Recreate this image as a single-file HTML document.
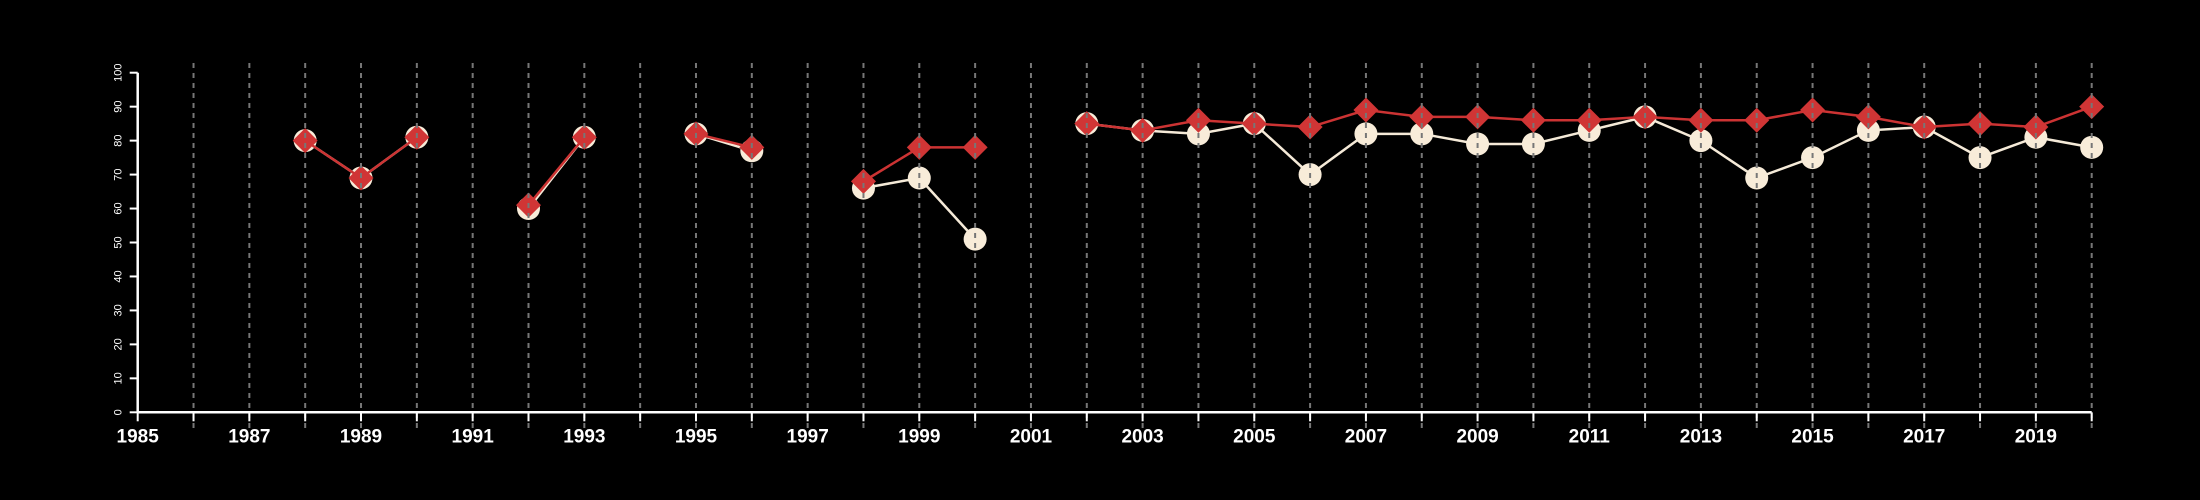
<!DOCTYPE html>
<html><head><meta charset="utf-8"><style>
html,body{margin:0;padding:0;background:#000;width:2200px;height:500px;overflow:hidden}
svg text{font-family:"Liberation Sans",Arial,sans-serif;fill:#fff}
</style></head><body>
<svg id="chart" width="2200" height="500" xmlns="http://www.w3.org/2000/svg">
<g id="series"></g>
<g id="grid"></g>
<g id="axes"></g>
</svg>
<script>
const years = [1988,1989,1990,1991,1992,1993,1994,1995,1996,1997,1998,1999,2000,2001,2002,2003,2004,2005,2006,2007,2008,2009,2010,2011,2012,2013,2014,2015,2016,2017,2018,2019,2020];
const whiteValues = [80,69,81,null,60,81,null,82,77,null,66,69,51,null,85,83,82,85,70,82,82,79,79,83,87,80,69,75,83,84,75,81,78];
const redValues = [80,69,81,null,61,81,null,82,78,null,68,78,78,null,85,83,86,85,84,89,87,87,86,86,87,86,86,89,87,84,85,84,90];
const xTickLabels = [1985,1987,1989,1991,1993,1995,1997,1999,2001,2003,2005,2007,2009,2011,2013,2015,2017,2019];
const yTickLabels = [0,10,20,30,40,50,60,70,80,90,100];

const X0=137.7, X1=2091.7, Y0=412.3, Y1=72.7;
const xs = y => X0 + (y-1985)*(X1-X0)/35;
const ys = v => Y0 - v*(Y0-Y1)/100;
const NS="http://www.w3.org/2000/svg";
function mk(tag, parent, attrs){const e=document.createElementNS(NS,tag);for(const k in attrs)e.setAttribute(k,attrs[k]);parent.appendChild(e);return e;}

const grid=document.getElementById('grid'), axes=document.getElementById('axes'), series=document.getElementById('series');

for(let y=1986;y<=2020;y++){
  const l=mk('line',grid,{x1:xs(y),x2:xs(y),y1:63,y2:428,stroke:'#777','stroke-width':2,'stroke-dasharray':'5,5'});
  
  
}
const xa=mk('line',axes,{x1:X0,x2:X1,y1:Y0,y2:Y0,stroke:'#fff','stroke-width':2.5});


for(let y=1985;y<=2020;y++){
  const t=mk('line',axes,{x1:xs(y),x2:xs(y),y1:Y0,y2:Y0+9,stroke:'#fff','stroke-width':2});
  
  
}
xTickLabels.forEach(v=>{
  const t=mk('text',axes,{x:xs(v),y:Y0+30,'text-anchor':'middle','font-size':19,'font-weight':'bold'});
  t.textContent=v;
  
  
});
const ya=mk('line',axes,{x1:X0,x2:X0,y1:Y0,y2:Y1,stroke:'#fff','stroke-width':2.5});


yTickLabels.forEach(v=>{
  const t=mk('line',axes,{x1:X0-8,x2:X0,y1:ys(v),y2:ys(v),stroke:'#fff','stroke-width':2});
  
  
  const tx=mk('text',axes,{x:0,y:0,'text-anchor':'middle','font-size':11,transform:`translate(${X0-16},${ys(v)}) rotate(-90)`});
  tx.textContent=v;
  
  
});

function drawLine(vals,color,name){
  let seg=[];
  const flush=()=>{if(seg.length>1){const p=mk('polyline',series,{points:seg.join(' '),fill:'none',stroke:color,'stroke-width':2.5});}seg=[];};
  vals.forEach((v,i)=>{if(v==null){flush();}else seg.push(xs(years[i])+','+ys(v));});
  flush();
}
drawLine(whiteValues,'#f5ead8','white-series');
whiteValues.forEach((v,i)=>{if(v==null)return;
  const c=mk('circle',series,{cx:xs(years[i]),cy:ys(v),r:11.5,fill:'#f8ecd9'});
  
  
});
drawLine(redValues,'#cc3333','red-series');
redValues.forEach((v,i)=>{if(v==null)return;
  const x=xs(years[i]),y=ys(v),d=12.5;
  const p=mk('polygon',series,{points:`${x},${y-d} ${x+d},${y} ${x},${y+d} ${x-d},${y}`,fill:'#d03535'});
  
  
});
</script>
</body></html>
